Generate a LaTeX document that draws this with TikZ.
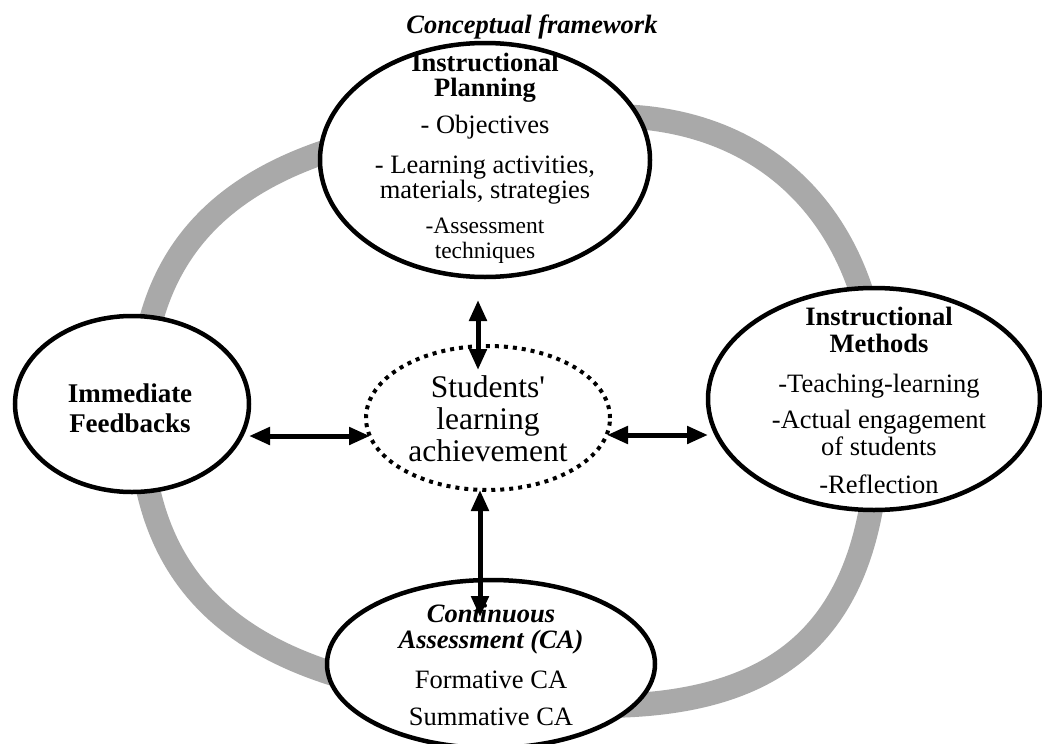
\documentclass[tikz,border=0pt]{standalone}
\usepackage{fontspec}
\setmainfont{Liberation Serif}
\usetikzlibrary{arrows.meta, shapes.geometric}

\definecolor{ringgray}{RGB}{169,169,169}

\begin{document}
\begin{tikzpicture}[
    x=1pt, y=-1pt,
    >={Triangle[length=21pt,width=17pt]},
    font=\fontsize{26.5}{25}\selectfont,
    bubble/.style={
      ellipse,
      draw,
      line width=4.5pt,
      fill=white,
      inner sep=0pt,
      outer sep=0pt
    },
    goal/.style={
      ellipse,
      draw,
      line width=4pt,
      dash pattern=on 4pt off 5pt,
      fill=white,
      inner sep=0pt,
      outer sep=0pt
    },
    caption/.style={align=center, inner sep=0pt},
    link/.style={<->, line width=5pt}
  ]
    \fill[white] (0,0) rectangle (1042,744);
    \useasboundingbox (0,0) rectangle (1042,744);

    % grey cycle behind the four stages
    \draw[ringgray, line width=24pt]
      (140,410) .. controls (140,204) and (281,116) .. (610,116)
                .. controls (775,116) and (879,230) .. (879,410)
                .. controls (879,617) and (795,706) .. (600,706)
                .. controls (278,706) and (140,617) .. (140,410) -- cycle;

    \node[anchor=base, font=\fontsize{26.5}{25}\selectfont\bfseries\itshape] (title) at (532,33) {Conceptual framework};

    % stages
    \node[bubble, minimum width=330pt, minimum height=234pt] (plan)     at (485,160) {};
    \node[bubble, minimum width=234pt, minimum height=176pt] (feedback) at (132,404) {};
    \node[bubble, minimum width=332pt, minimum height=222pt] (methods)  at (874,399) {};
    \node[bubble, minimum width=328pt, minimum height=168pt] (assess)   at (491,664) {};
    \node[goal,   minimum width=244pt, minimum height=144pt] (achieve)  at (488,418) {};

    \node[caption] (planText) at (485,158) {\bfseries Instructional\\ \bfseries Planning\\[12pt] - Objectives\\[15pt] - Learning activities,\\ materials, strategies\\[10pt] \fontsize{23.5}{24}\selectfont -Assessment\\ \fontsize{23.5}{24}\selectfont techniques};
    \node[caption, font=\fontsize{27}{30}\selectfont\bfseries] (feedbackText) at (130,408) {Immediate\\Feedbacks};
    \node[caption, font=\fontsize{26.5}{27}\selectfont] (methodsText) at (879,400) {\bfseries Instructional\\ \bfseries Methods\\[13pt] -Teaching-learning\\[9pt] -Actual engagement\\ of students\\[11pt] -Reflection};
    \node[caption, font=\fontsize{26.5}{26}\selectfont] (assessText) at (491,664.5) {\bfseries\itshape Continuous\\ \bfseries\itshape Assessment (CA)\\[14pt] Formative CA\\[11pt] Summative CA};
    \node[caption, font=\fontsize{31.5}{32}\selectfont] (achieveText) at (488,419) {Students\textquotesingle\\learning\\achievement};

    % two-way links to the centre
    \draw[link] ([xshift=-7pt,yshift=-23pt]plan.south) -- ([xshift=-10pt,yshift=-24pt]achieve.north);
    \draw[link] ([yshift=-32pt]feedback.east) -- ([xshift=4pt,yshift=-18pt]achieve.west);
    \draw[link] ([xshift=-3pt,yshift=-17pt]achieve.east) -- ([yshift=-36pt]methods.west);
    \draw[link] ([xshift=-8pt]achieve.south) -- ([xshift=-11pt,yshift=-37pt]assess.north);
\end{tikzpicture}
\end{document}
